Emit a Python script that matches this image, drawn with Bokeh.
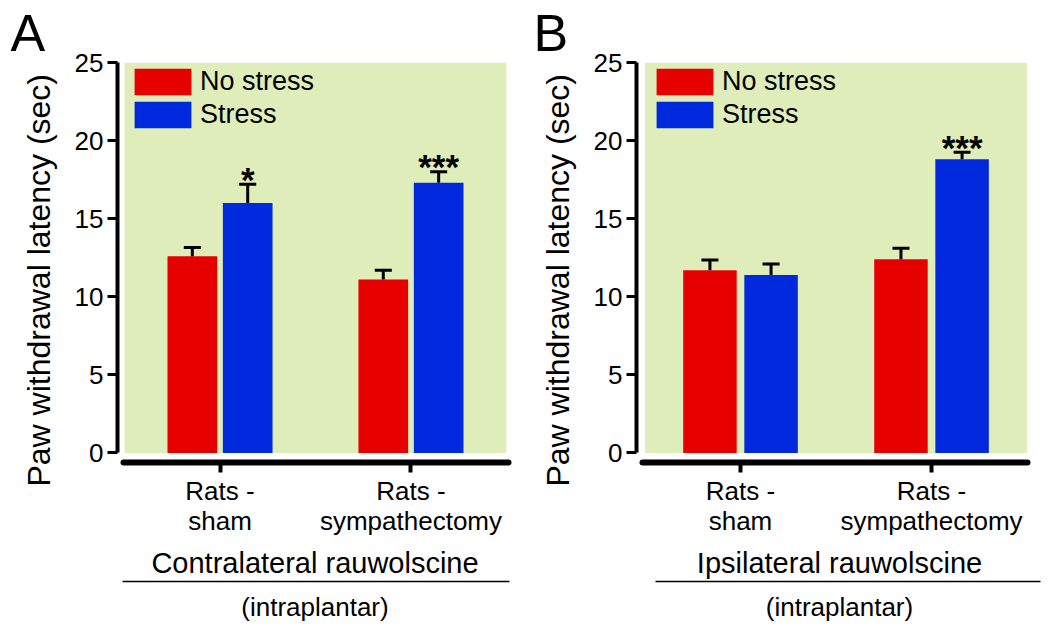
from bokeh.plotting import figure
from bokeh.models import (ColumnDataSource, Whisker, TeeHead, BoxAnnotation,
                          Legend, LegendItem, FixedTicker, LinearAxis, Range1d)
from bokeh.layouts import row
from bokeh.embed import file_html
from bokeh.resources import INLINE
from bokeh.core.properties import value

# ---------------- data ----------------
groups = ["Rats -\nsham", "Rats -\nsympathectomy"]
series = ["No stress", "Stress"]
y_ticks = [0, 5, 10, 15, 20, 25]

a_no_stress = [12.6, 11.1]
a_no_stress_err = [0.55, 0.6]
a_stress = [16.0, 17.3]
a_stress_err = [1.2, 0.7]
a_sig = ["*", "***"]

b_no_stress = [11.7, 12.4]
b_no_stress_err = [0.65, 0.7]
b_stress = [11.4, 18.8]
b_stress_err = [0.7, 0.45]
b_sig = ["", "***"]

# ---------------- style ----------------
FONT = "Liberation Sans"
RED = "#E60000"
BLUE = "#0029DD"
GREEN = "#DEEDB9"
INK = "black"
Y_LABEL = "Paw withdrawal latency (sec)" + "\u00a0" * 4


def panel(letter, treatment, ns, ns_err, st, st_err, sig, width, border_left,
          x_start, x_end, offset, bar_w, axis_bounds, sep_bounds, letter_x, legend_x):
    p = figure(width=width, height=630,
               x_range=Range1d(x_start, x_end), y_range=Range1d(-0.61, 25),
               output_backend="svg", toolbar_location=None,
               min_border_left=border_left, min_border_right=8,
               min_border_top=62, min_border_bottom=168)
    p.xgrid.visible = False
    p.ygrid.visible = False
    p.outline_line_color = None

    p.title.text = letter
    p.title.text_font = FONT
    p.title.text_font_size = "52px"
    p.title.text_font_style = "normal"
    p.title.text_color = INK
    p.title.align = "left"
    p.title.vertical_align = "middle"
    p.title.offset = letter_x
    p.title.standoff = 0

    p.add_layout(BoxAnnotation(left=0.5, right=2.5, bottom=0, top=25,
                               fill_color=GREEN, fill_alpha=1, line_color=None,
                               level="underlay"))

    idx = list(range(1, len(groups) + 1))
    src_ns = ColumnDataSource(dict(x=[i - offset for i in idx], top=ns,
                                   upper=[v + e for v, e in zip(ns, ns_err)]))
    src_st = ColumnDataSource(dict(x=[i + offset for i in idx], top=st,
                                   upper=[v + e for v, e in zip(st, st_err)],
                                   sig=sig))

    r_ns = p.vbar(x="x", top="top", bottom=0, width=bar_w, source=src_ns,
                  fill_color=RED, line_color=None)
    r_st = p.vbar(x="x", top="top", bottom=0, width=bar_w, source=src_st,
                  fill_color=BLUE, line_color=None)

    for src in (src_ns, src_st):
        w = Whisker(base="x", lower="top", upper="upper", source=src,
                    line_width=3, line_color=INK, level="annotation",
                    upper_head=TeeHead(size=17, line_width=3, line_color=INK),
                    lower_head=None)
        p.add_layout(w)

    p.text(x="x", y="upper", text="sig", source=src_st,
           text_align="center", text_baseline="alphabetic", y_offset=-5,
           text_font=value(FONT), text_font_size="35px", text_font_style="bold",
           text_color=INK)

    legend = Legend(items=[LegendItem(label=series[0], renderers=[r_ns]),
                           LegendItem(label=series[1], renderers=[r_st])],
                    location=(legend_x, 331), glyph_width=71, glyph_height=33,
                    label_height=33, spacing=0, padding=0, margin=0,
                    border_line_color=None, background_fill_alpha=0,
                    label_text_font=FONT, label_text_font_size="27px",
                    label_text_color=INK, label_standoff=2)
    p.add_layout(legend)

    # y axis
    ya = p.yaxis[0]
    ya.ticker = FixedTicker(ticks=y_ticks)
    ya.bounds = (0, 25)
    ya.axis_line_width = 4
    ya.axis_line_color = INK
    ya.major_tick_line_width = 3
    ya.major_tick_line_color = INK
    ya.major_tick_out = 10
    ya.major_tick_in = 0
    ya.minor_tick_line_color = None
    ya.major_label_text_font = FONT
    ya.major_label_text_font_size = "26px"
    ya.major_label_text_color = INK
    ya.major_label_standoff = 4
    ya.axis_label = Y_LABEL
    ya.axis_label_text_font = FONT
    ya.axis_label_text_font_size = "32px"
    ya.axis_label_text_font_style = "normal"
    ya.axis_label_text_color = INK
    ya.axis_label_standoff = 15

    # x axis
    xa = p.xaxis[0]
    xa.ticker = FixedTicker(ticks=idx)
    xa.major_label_overrides = {i: g for i, g in zip(idx, groups)}
    xa.bounds = axis_bounds
    xa.axis_line_width = 6
    xa.axis_line_cap = "round"
    xa.axis_line_color = INK
    xa.major_tick_line_width = 4
    xa.major_tick_line_color = INK
    xa.major_tick_out = 10
    xa.major_tick_in = 0
    xa.minor_tick_line_color = None
    xa.major_label_text_font = FONT
    xa.major_label_text_font_size = "26px"
    xa.major_label_text_color = INK
    xa.major_label_text_line_height = 1.0
    xa.major_label_standoff = 3
    xa.axis_label = treatment
    xa.axis_label_text_font = FONT
    xa.axis_label_text_font_size = "29px"
    xa.axis_label_text_font_style = "normal"
    xa.axis_label_text_color = INK
    xa.axis_label_standoff = 8

    sep = LinearAxis(ticker=FixedTicker(ticks=[]), bounds=sep_bounds,
                     axis_line_width=1.5, axis_line_color=INK,
                     axis_label="(intraplantar)",
                     axis_label_text_font=FONT, axis_label_text_font_size="26px",
                     axis_label_text_font_style="normal", axis_label_text_color=INK,
                     axis_label_standoff=10,
                     major_tick_line_color=None, minor_tick_line_color=None)
    p.add_layout(sep, "below")
    return p


pa = panel("A", "Contralateral rauwolscine", a_no_stress, a_no_stress_err,
           a_stress, a_stress_err, a_sig, width=520, border_left=117,
           x_start=0.4632, x_end=2.5316, offset=0.145, bar_w=0.26,
           axis_bounds=(0.495, 2.51), sep_bounds=(0.49, 2.516),
           letter_x=-107, legend_x=10)
pb = panel("B", "Ipsilateral rauwolscine", b_no_stress, b_no_stress_err,
           b_stress, b_stress_err, b_sig, width=530, border_left=116,
           x_start=0.4555, x_end=2.581, offset=0.16, bar_w=0.28,
           axis_bounds=(0.486, 2.5), sep_bounds=(0.555, 2.571),
           letter_x=-103, legend_x=13)

layout = row(pa, pb)
open("out.html", "w").write(file_html(layout, INLINE))
